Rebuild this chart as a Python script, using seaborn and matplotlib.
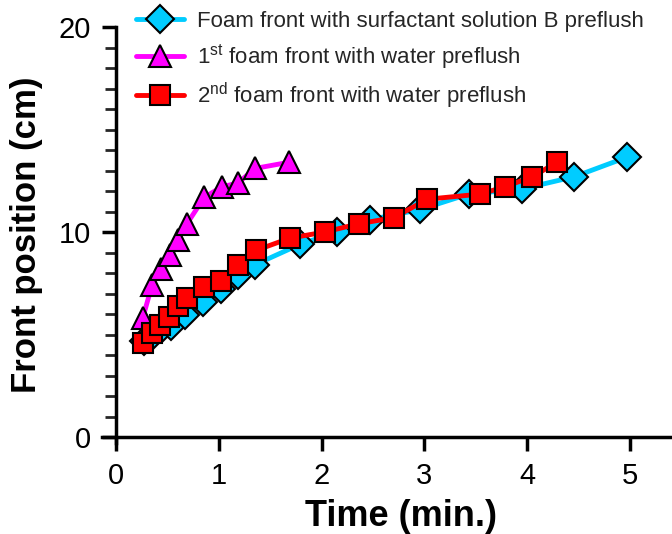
import numpy as np
import pandas as pd
import matplotlib
matplotlib.use("Agg")
import matplotlib.pyplot as plt
import seaborn as sns
from matplotlib.ticker import MultipleLocator

# data
t_surf = [0.27, 0.36, 0.45, 0.54, 0.67, 0.85, 1.02, 1.19, 1.35, 1.79, 2.15, 2.47, 2.96, 3.43, 3.95, 4.46, 4.97]
x_surf = [4.7, 5.0, 5.3, 5.4, 5.95, 6.6, 7.2, 7.9, 8.4, 9.4, 10.0, 10.6, 11.1, 11.85, 12.1, 12.7, 13.65]

t_water1 = [0.26, 0.35, 0.44, 0.53, 0.60, 0.69, 0.86, 1.03, 1.19, 1.35, 1.68]
x_water1 = [5.8, 7.4, 8.2, 8.9, 9.6, 10.4, 11.7, 12.2, 12.4, 13.1, 13.4]

t_water2 = [0.26, 0.35, 0.43, 0.52, 0.60, 0.69, 0.86, 1.02, 1.19, 1.36, 1.69, 2.03, 2.36, 2.70, 3.03, 3.54, 3.78, 4.05, 4.29]
x_water2 = [4.6, 5.07, 5.46, 5.85, 6.4, 6.8, 7.3, 7.6, 8.4, 9.1, 9.7, 10.0, 10.4, 10.7, 11.6, 11.85, 12.2, 12.7, 13.4]

labels = ["Foam front with surfactant solution B preflush",
          r"1$^{\rm st}$ foam front with water preflush",
          r"2$^{\rm nd}$ foam front with water preflush"]
colors = ["#00CCFF", "#FF00FF", "#FF0000"]
markers = ["D", "^", "s"]
msizes = [14, 16, 15]

sns.set_style("ticks")
plt.rcParams['font.family'] = ['Liberation Sans', 'DejaVu Sans']
plt.rcParams['mathtext.fontset'] = 'custom'
plt.rcParams['mathtext.rm'] = 'Liberation Sans'

fig = plt.figure(figsize=(6.72, 5.34), dpi=100)
ax = fig.add_axes([0.1726 - 0.14 * 102.8 / 672, 0.1816 - 0.3 * 20.5 / 534,
                   (5.41 + 0.14) * 102.8 / 672, (20.3) * 20.5 / 534])

series = [(t_surf, x_surf), (t_water1, x_water1), (t_water2, x_water2)]
for (t, x), lab, c, m, ms in zip(series, labels, colors, markers, msizes):
    df = pd.DataFrame({'t': t, 'x': x})
    sns.lineplot(data=df, x='t', y='x', ax=ax, sort=False, color=c, lw=3.5,
                 marker=m, markersize=ms, markeredgecolor='black',
                 markeredgewidth=1.5, label=lab)

ax.set_xlim(-0.14, 5.41)
ax.set_ylim(-0.3, 20)
ax.spines['left'].set_position(('data', 0))
ax.spines['bottom'].set_position(('data', 0))
ax.spines['top'].set_visible(False)
ax.spines['right'].set_visible(False)
for s in ['left', 'bottom']:
    ax.spines[s].set_linewidth(2.5)
    ax.spines[s].set_color('black')

ax.set_xticks([0, 1, 2, 3, 4, 5])
ax.set_yticks([0, 10, 20])
ax.yaxis.set_minor_locator(MultipleLocator(1))
ax.tick_params(axis='both', which='major', direction='out', length=10, width=2.5,
               labelsize=21, colors='black', labelcolor='black', pad=8)
ax.tick_params(axis='y', which='minor', direction='out', length=8, width=2)

ax.set_xlabel("Time (min.)", fontsize=26, fontweight='bold', color='black')
ax.set_ylabel("Front position (cm)", fontsize=25, fontweight='bold', color='black')
ax.xaxis.set_label_coords(0.525, -0.135)
ax.yaxis.set_label_coords(-0.1035, 0.5)

ax.legend(loc='upper left', bbox_to_anchor=(0.044, 1.06), frameon=False,
          fontsize=16, handlelength=2.2, handletextpad=0.55, labelspacing=0.45,
          borderaxespad=0)

fig.savefig("out.png", dpi=100)
